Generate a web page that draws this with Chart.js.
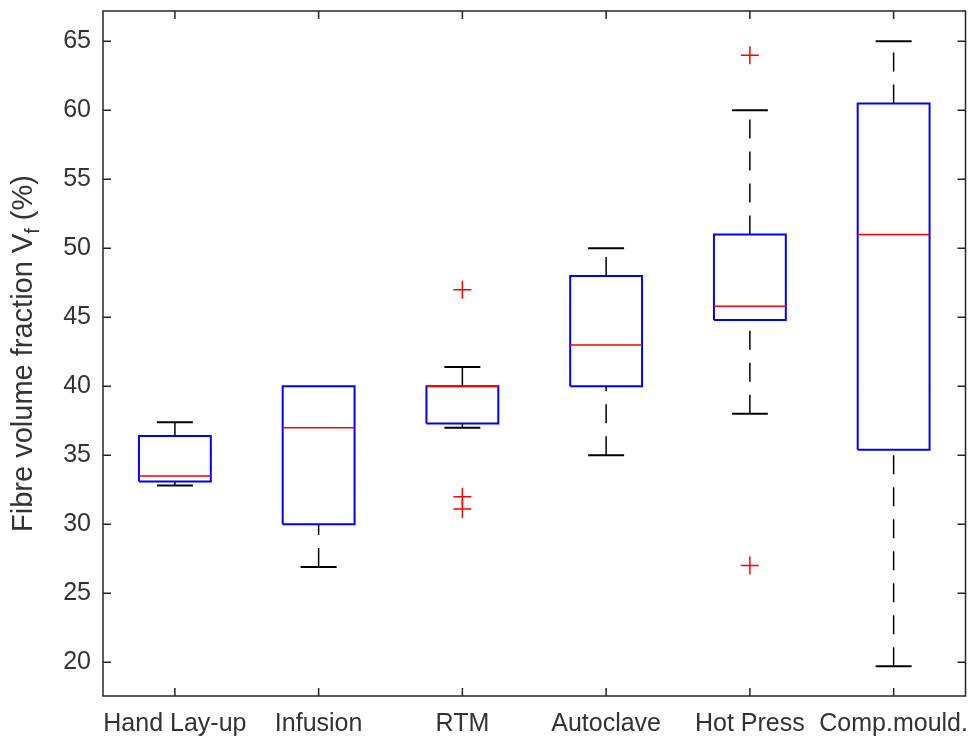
<!DOCTYPE html>
<html>
<head>
<meta charset="utf-8">
<title>Fibre volume fraction</title>
<script src="https://cdn.jsdelivr.net/npm/chart.js@4.4.1/dist/chart.umd.min.js"></script>
<style>
  html, body { margin: 0; padding: 0; background: #fff; }
  .wrap { width: 976px; height: 742px; position: relative; }
</style>
</head>
<body>
<div class="wrap"><canvas id="myChart"></canvas></div>
<script>
// 데이터
const categories = ['Hand Lay-up', 'Infusion', 'RTM', 'Autoclave', 'Hot Press', 'Comp.mould.'];
const whiskerLow  = [32.8, 26.9, 37.0, 35.0, 38.0, 19.7];
const q1          = [33.1, 30.0, 37.3, 40.0, 44.8, 35.4];
const median      = [33.5, 37.0, 40.0, 43.0, 45.8, 51.0];
const q3          = [36.4, 40.0, 40.0, 48.0, 51.0, 60.5];
const whiskerHigh = [37.4, 40.0, 41.4, 50.0, 60.0, 65.0];
const outliers    = [[], [], [47.0, 32.0, 31.1], [], [64.0, 27.0], []];
const yTicks = [20, 25, 30, 35, 40, 45, 50, 55, 60, 65];

const BOX_HALF = 0.25;
const CAP_HALF = 0.125;
const AXIS_COLOR = '#262626';
const FONT = '"Liberation Sans", Arial, sans-serif';

// 선분 목록 -> scatter 데이터 (null 로 끊기)
function toPath(parts) {
  var out = [];
  parts.forEach(function (p) {
    p.forEach(function (pt) { out.push({x: pt[0], y: pt[1]}); });
    out.push({x: p[0][0], y: null});
  });
  return out;
}

var boxParts = [], medParts = [], capParts = [], whiskParts = [], outPts = [];
categories.forEach(function (c, i) {
  var x = i + 1;
  boxParts.push([[x - BOX_HALF, q1[i]], [x + BOX_HALF, q1[i]], [x + BOX_HALF, q3[i]], [x - BOX_HALF, q3[i]], [x - BOX_HALF, q1[i]]]);
  medParts.push([[x - BOX_HALF, median[i]], [x + BOX_HALF, median[i]]]);
  if (whiskerLow[i] < q1[i]) {
    whiskParts.push([[x, whiskerLow[i]], [x, q1[i]]]);
    capParts.push([[x - CAP_HALF, whiskerLow[i]], [x + CAP_HALF, whiskerLow[i]]]);
  }
  if (whiskerHigh[i] > q3[i]) {
    whiskParts.push([[x, q3[i]], [x, whiskerHigh[i]]]);
    capParts.push([[x - CAP_HALF, whiskerHigh[i]], [x + CAP_HALF, whiskerHigh[i]]]);
  }
  outliers[i].forEach(function (v) { outPts.push({x: x, y: v}); });
});

function lineSet(data, color, width, dash) {
  return {
    data: data, showLine: true, borderColor: color, borderWidth: width,
    borderDash: dash || [], pointRadius: 0, pointHoverRadius: 0,
    tension: 0, spanGaps: false, borderJoinStyle: 'miter', borderCapStyle: 'butt'
  };
}

// 축 테두리, 안쪽 눈금, y축 제목
const frame = {
  id: 'frame',
  afterDraw: function (chart) {
    const ctx = chart.ctx, a = chart.chartArea;
    const sx = chart.scales.x, sy = chart.scales.y;
    ctx.save();
    ctx.strokeStyle = AXIS_COLOR;
    ctx.lineWidth = 1.5;
    ctx.strokeRect(a.left, a.top, a.right - a.left, a.bottom - a.top);
    ctx.beginPath();
    sx.ticks.forEach(function (t) {
      var px = sx.getPixelForValue(t.value);
      ctx.moveTo(px, a.bottom); ctx.lineTo(px, a.bottom - 8);
      ctx.moveTo(px, a.top); ctx.lineTo(px, a.top + 8);
    });
    sy.ticks.forEach(function (t) {
      var py = sy.getPixelForValue(t.value);
      ctx.moveTo(a.left, py); ctx.lineTo(a.left + 8, py);
      ctx.moveTo(a.right, py); ctx.lineTo(a.right - 8, py);
    });
    ctx.stroke();

    // y title with subscript
    var main = 'Fibre volume fraction V', sub = 'f', tail = ' (%)';
    ctx.fillStyle = '#333333';
    ctx.textBaseline = 'alphabetic';
    ctx.textAlign = 'left';
    ctx.font = '29px ' + FONT;
    var w1 = ctx.measureText(main).width, w3 = ctx.measureText(tail).width;
    ctx.font = '20px ' + FONT;
    var w2 = ctx.measureText(sub).width;
    var total = w1 + w2 + w3;
    ctx.translate(22, (a.top + a.bottom) / 2);
    ctx.rotate(-Math.PI / 2);
    var x0 = -total / 2;
    ctx.font = '29px ' + FONT;
    ctx.fillText(main, x0, 10);
    ctx.font = '20px ' + FONT;
    ctx.fillText(sub, x0 + w1, 17);
    ctx.font = '29px ' + FONT;
    ctx.fillText(tail, x0 + w1 + w2, 10);
    ctx.restore();
  }
};

Chart.defaults.font.family = FONT;
Chart.defaults.font.size = 25;
Chart.defaults.color = '#333333';

const ctx = document.getElementById('myChart');

new Chart(ctx, {
  type: 'scatter',
  data: {
    datasets: [
      // 위에 그려지는 것부터
      {
        data: outPts, showLine: false, pointStyle: 'cross', pointRadius: 9,
        pointHoverRadius: 9, borderColor: '#ff0000', backgroundColor: '#ff0000', borderWidth: 1.5
      },
      lineSet(toPath(medParts), '#ff0000', 1.5),
      lineSet(toPath(boxParts), '#0000ff', 2),
      lineSet(toPath(capParts), '#000000', 2),
      lineSet(toPath(whiskParts), '#000000', 1.5, [19, 13])
    ]
  },
  options: {
    responsive: true,
    maintainAspectRatio: false,
    animation: false,
    events: [],
    layout: { padding: { left: 0, top: 11, right: 8, bottom: 0 } },
    plugins: { legend: { display: false }, tooltip: { enabled: false } },
    scales: {
      x: {
        type: 'linear', min: 0.5, max: 6.5,
        grid: { display: false, drawTicks: false },
        border: { display: false },
        ticks: {
          padding: 13, maxRotation: 0, autoSkip: false,
          callback: function (v) { return categories[v - 1]; }
        },
        afterBuildTicks: function (scale) {
          scale.ticks = categories.map(function (c, i) { return {value: i + 1}; });
        },
        afterFit: function (scale) {
          scale.height = 46;
          scale.paddingLeft = 0;
          scale.paddingRight = 0;
        }
      },
      y: {
        type: 'linear', min: 17.55, max: 67.2,
        grid: { display: false, drawTicks: false },
        border: { display: false },
        ticks: { padding: 12 },
        afterBuildTicks: function (scale) {
          scale.ticks = yTicks.map(function (v) { return {value: v}; });
        },
        afterFit: function (scale) {
          scale.width = 103;
          scale.paddingTop = 0;
          scale.paddingBottom = 0;
        }
      }
    }
  },
  plugins: [frame]
});
</script>
</body>
</html>
